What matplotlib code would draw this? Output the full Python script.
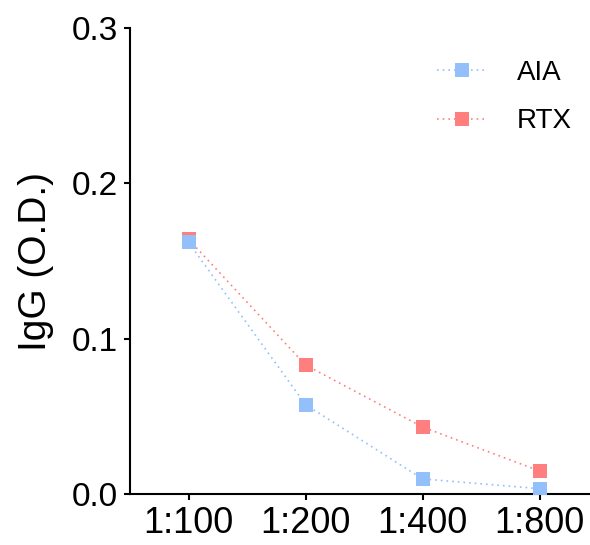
import numpy as np
import matplotlib
matplotlib.use("Agg")
from matplotlib import pyplot as plt

plt.rcParams['font.family'] = ['Liberation Sans', 'DejaVu Sans']

dilutions = ['1:100', '1:200', '1:400', '1:800']
aia = [0.162, 0.0575, 0.0097, 0.0034]
rtx = [0.164, 0.083, 0.0431, 0.0148]
yticks = [0.0, 0.1, 0.2, 0.3]

blue = '#93C0FB'
red = '#FF7F7F'

fig = plt.figure(figsize=(5.9, 5.45), dpi=100)
ax = fig.add_axes([0.2203, 0.0936, 0.7797, 0.855])

x = np.arange(len(dilutions))
ax.plot(x, aia, linestyle=(0, (1, 2.4)), lw=1.2, color=blue, marker='s',
        markersize=10.5, markeredgewidth=0, label='AIA', zorder=3)
ax.plot(x, rtx, linestyle=(0, (1, 2.4)), lw=1.2, color=red, marker='s',
        markersize=10.5, markeredgewidth=0, label='RTX', zorder=2)

ax.set_xlim(-0.5, 3.43)
ax.set_ylim(0, 0.3)
ax.set_xticks(x)
ax.set_xticklabels(dilutions, fontsize=26)
ax.set_yticks(yticks)
ax.set_yticklabels(['%.1f' % v for v in yticks], fontsize=24)
ax.set_ylabel('IgG (O.D.)', fontsize=28, labelpad=13)

for s in ['top', 'right']:
    ax.spines[s].set_visible(False)
for s in ['left', 'bottom']:
    ax.spines[s].set_linewidth(1.5)
ax.tick_params(width=1.5, length=4.5, pad=4)

ax.legend(loc='upper left', bbox_to_anchor=(437 / 590, 1 - 60 / 545),
          bbox_transform=fig.transFigure, frameon=False, borderpad=0,
          borderaxespad=0, fontsize=20, handlelength=1.8, handletextpad=1.08,
          labelspacing=0.8)

fig.savefig('out.png', dpi=100)
